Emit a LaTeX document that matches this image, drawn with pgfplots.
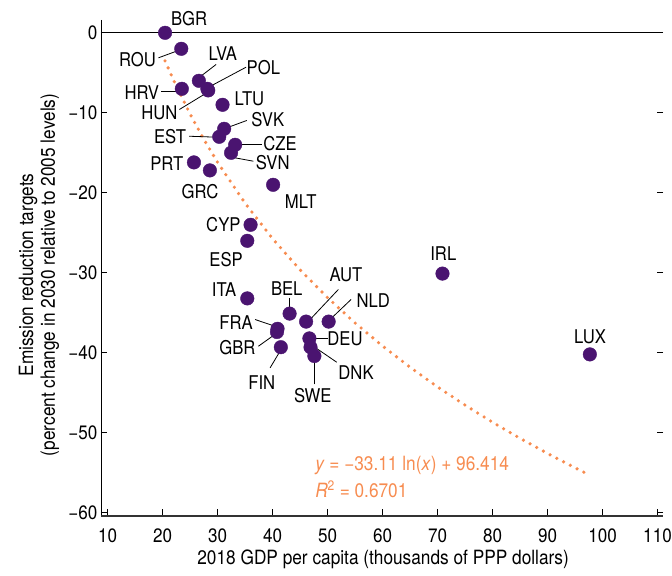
\documentclass[border=0pt]{standalone}
\usepackage{fontspec}
\setmainfont{TeX Gyre Heros}[FakeStretch=0.88]
\usepackage{pgfplots}
\pgfplotsset{compat=1.18}
\definecolor{dotpurple}{RGB}{74,20,112}
\definecolor{trendorange}{RGB}{247,140,80}
\newcommand\lab{\fontsize{19}{19}\selectfont}
\newcommand\axl{\fontsize{19.7}{22}\selectfont}
\newcommand\tkl{\fontsize{19.5}{20}\selectfont}
\begin{document}
\begin{tikzpicture}
\begin{axis}[
  scale only axis, width=562bp, height=496bp,
  xmin=8.8, xmax=111, ymin=-60.4, ymax=1.6,
  clip=false,
  axis line style={draw=none},
  xtick={10,20,30,40,50,60,70,80,90,100,110},
  xticklabels={10,20,30,40,50,60,70,80,90,100,110},
  ytick={-60,-50,-40,-30,-20,-10,0},
  yticklabels={−60,−50,−40,−30,−20,−10,0},
  xtick pos=lower, ytick pos=both,
  tick align=inside,
  major tick length=6.5bp,
  tick style={black, line width=0.8bp},
  ticklabel style={font=\tkl},
  xticklabel style={yshift=-9bp},
]
% axis lines
\draw[line width=0.8bp] (rel axis cs:0,1) -- (rel axis cs:0,0);
\draw[line width=1.3bp, black!80] (rel axis cs:0,0) -- (rel axis cs:1,0);
\draw[line width=0.8bp] (axis cs:8.8,0) -- (axis cs:111,0);
% trend line (fitted values)
\addplot[trendorange, line width=3.6bp, line cap=round, dash pattern=on 0bp off 7.6bp]
  coordinates {(20.45,-3.51) (22,-5.93) (25,-10.16) (27.5,-13.32) (30,-16.20)
  (35,-21.30) (40,-25.73) (45,-29.63) (50,-33.11) (55,-36.27) (60,-39.15)
  (65,-41.80) (70,-44.26) (75,-46.54) (80,-48.68) (85,-50.69) (90,-52.58)
  (95,-54.37) (97.7,-55.30)};
% countries
\addplot[only marks, mark=*, mark size=6.8bp, mark options={fill=dotpurple, draw=dotpurple}]
  table[row sep=\\] {
  x y \\
  20.45 0 \\ 23.4 -2 \\ 26.6 -6 \\ 28.15 -7 \\ 28.3 -7.2 \\ 23.5 -7 \\
  30.9 -9 \\ 31.2 -12 \\ 30.3 -13 \\ 33.2 -14 \\ 32.45 -15 \\ 25.7 -16.2 \\
  28.6 -17.2 \\ 40.1 -19 \\ 36.0 -24 \\ 35.4 -26 \\ 35.4 -33.2 \\ 43.1 -35.1 \\
  46.1 -36.1 \\ 50.2 -36.1 \\ 40.9 -37 \\ 40.8 -37.4 \\ 41.5 -39.3 \\ 46.7 -38.2 \\
  46.9 -39.3 \\ 47.6 -40.4 \\ 70.9 -30.1 \\ 97.7 -40.2 \\
  };
% leader lines
\begin{scope}[line width=0.8bp]
\draw (axis cs:19.24,-3.13) -- (axis cs:22.87,-2.21);
\draw (axis cs:29.73,-3.96) -- (axis cs:26.82,-5.5);
\draw (axis cs:35.18,-4.3) -- (axis cs:28.15,-6.88);
\draw (axis cs:19.73,-7.3) -- (axis cs:22.87,-7.3);
\draw (axis cs:23.05,-9.59) -- (axis cs:28.04,-7.5);
\draw (axis cs:35.31,-10.96) -- (axis cs:31.67,-11.88);
\draw (axis cs:24.82,-12.93) -- (axis cs:29.96,-13.05);
\draw (axis cs:34.09,-13.96) -- (axis cs:38.04,-13.96);
\draw (axis cs:33.18,-15.63) -- (axis cs:36.51,-16.05);
\draw (axis cs:43.05,-33.13) -- (axis cs:43.05,-34.38);
\draw (axis cs:51.96,-32.09) -- (axis cs:46.82,-35.84);
\draw (axis cs:54.27,-33.34) -- (axis cs:50.45,-35.84);
\draw (axis cs:36.82,-35.84) -- (axis cs:40.45,-36.68);
\draw (axis cs:37.42,-39.18) -- (axis cs:40.58,-37.63);
\draw (axis cs:39.55,-41.88) -- (axis cs:41.36,-39.8);
\draw (axis cs:50.04,-38.25) -- (axis cs:47.13,-38.25);
\draw (axis cs:51.67,-41.18) -- (axis cs:47.42,-39.18);
\draw (axis cs:47.6,-43.96) -- (axis cs:47.6,-40.63);
\end{scope}
% labels
\begin{scope}[every node/.style={font=\lab, inner sep=0pt}]
\node at (axis cs:24.82,1.75) {BGR};
\node at (axis cs:15.42,-3.34) {ROU};
\node at (axis cs:30.95,-2.59) {LVA};
\node at (axis cs:38.33,-4.375) {POL};
\node at (axis cs:16.22,-7.43) {HRV};
\node at (axis cs:19.42,-10.0) {HUN};
\node at (axis cs:35.78,-8.25) {LTU};
\node at (axis cs:39.13,-10.84) {SVK};
\node at (axis cs:21.36,-12.93) {EST};
\node at (axis cs:41.36,-13.84) {CZE};
\node at (axis cs:40.04,-16.25) {SVN};
\node at (axis cs:20.76,-16.34) {PRT};
\node at (axis cs:26.82,-19.84) {GRC};
\node at (axis cs:45.13,-21.05) {MLT};
\node at (axis cs:31.05,-23.96) {CYP};
\node at (axis cs:31.55,-28.34) {ESP};
\node at (axis cs:31.18,-32.09) {ITA};
\node at (axis cs:42.58,-32.0) {BEL};
\node at (axis cs:53.36,-30.21) {AUT};
\node at (axis cs:58.33,-33.43) {NLD};
\node at (axis cs:33.36,-36.18) {FRA};
\node at (axis cs:33.6,-39.38) {GBR};
\node at (axis cs:38.04,-43.75) {FIN};
\node at (axis cs:53.18,-38.25) {DEU};
\node at (axis cs:55.18,-42.43) {DNK};
\node at (axis cs:47.31,-45.34) {SWE};
\node at (axis cs:71.05,-27.59) {IRL};
\node at (axis cs:97.73,-37.96) {LUX};
\node[anchor=west, text=trendorange, font=\axl] at (axis cs:47.73,-54.09) {\textit{y} = −33.11 ln(\textit{x}) + 96.414};
\node[anchor=west, text=trendorange, font=\axl] at (axis cs:47.73,-57.09) {\textit{R}\textsuperscript{2} = 0.6701};
\end{scope}
% axis titles
\node[font=\axl, inner sep=0pt] at ([yshift=-43bp]rel axis cs:0.502,0) {2018 GDP per capita (thousands of PPP dollars)};
\node[font=\axl, rotate=90, align=center, inner sep=0pt] at ([xshift=-62bp]rel axis cs:0,0.486) {Emission reduction targets\\(percent change in 2030 relative to 2005 levels)};
\coordinate (SWc) at (rel axis cs:0,0);
\coordinate (NEc) at (rel axis cs:1,1);
\end{axis}
\pgfresetboundingbox
\path ([xshift=-101bp,yshift=-60bp]SWc) rectangle ([xshift=9bp,yshift=20bp]NEc);
\end{tikzpicture}
\end{document}
